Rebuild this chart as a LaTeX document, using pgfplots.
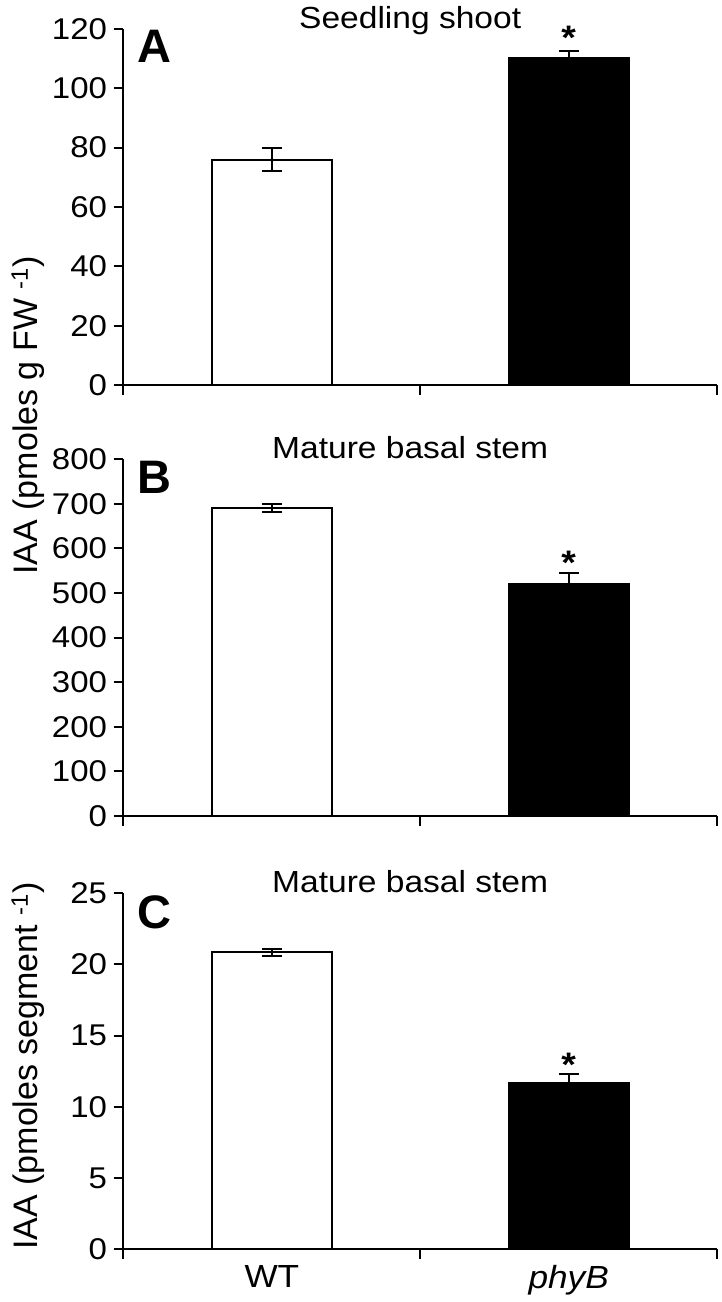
\documentclass[border=0pt]{standalone}
\usepackage{pgfplots}
\pgfplotsset{compat=1.18}
\usepackage{fontspec}
\setmainfont{Liberation Sans}[FakeStretch=1.1]
\newfontfamily\plainfont{Liberation Sans}

\pgfplotsset{
  panel/.style={
    scale only axis, width=593.5pt,
    xmin=0, xmax=2, ymin=0,
    axis x line=bottom, axis y line=left,
    axis line style={-, line width=2pt},
    tick align=outside, major tick length=10pt,
    tick style={line width=2pt, black},
    xtick={0,1,2}, xticklabels={},
    ybar, bar width=0.404,
    /pgf/number format/assume math mode=true,
    tick label style={font=\fontsize{30}{32}\selectfont},
    yticklabel style={xshift=-3pt},
    title style={at={(0.483,1)}, anchor=base, inner sep=0pt, yshift=-5pt,
      font=\fontsize{30.5}{32}\selectfont},
    clip=false,
  },
  bars/.style={draw=black, line width=2pt, bar shift=0pt,
    error bars/y dir=both, error bars/y explicit,
    error bars/error bar style={line width=2pt, black},
    error bars/error mark options={rotate=90, mark size=10pt, line width=2pt, black}},
  wt/.style={bars, fill=white},
  mut/.style={bars, fill=black},
}
\tikzset{
  letter/.style={anchor=base west, font=\plainfont\bfseries\fontsize{47}{49}\selectfont},
  star/.style={anchor=base, font=\bfseries\fontsize{34}{36}\selectfont},
}

\begin{document}
\begin{tikzpicture}
\path[use as bounding box] (0,0) rectangle (721pt,-1302pt);

% A
\begin{axis}[panel, at={(123.5pt,-385pt)}, anchor=south west,
  height=356pt, ymax=120, ytick={0,20,...,120}, title={Seedling shoot}]
\addplot[wt] coordinates {(0.5,76) +- (0,4)};
\addplot[mut] coordinates {(1.5,110.2) +- (0,2.5)};
\node[letter] at (rel axis cs:0.017,0.905) {A};
\node[star] at (axis cs:1.5,113) {*};
\end{axis}

% B
\begin{axis}[panel, at={(123.5pt,-816pt)}, anchor=south west,
  height=356.7pt, ymax=800, ytick={0,100,...,800}, title={Mature basal stem}]
\addplot[wt] coordinates {(0.5,690) +- (0,9)};
\addplot[mut] coordinates {(1.5,521) +- (0,25)};
\node[letter] at (rel axis cs:0.017,0.905) {B};
\node[star] at (axis cs:1.5,542) {*};
\end{axis}

% C
\begin{axis}[panel, at={(123.5pt,-1249pt)}, anchor=south west,
  height=355.7pt, ymax=25, ytick={0,5,...,25}, title={Mature basal stem},
  extra x ticks={0.5,1.5}, extra x tick labels={WT,\textit{phyB}},
  extra x tick style={major tick length=0pt,
    tick label style={font=\fontsize{32}{34}\selectfont, yshift=-13pt}}]
\addplot[wt] coordinates {(0.5,20.85) +- (0,0.25)};
\addplot[mut] coordinates {(1.5,11.7) +- (0,0.6)};
\node[letter] at (rel axis cs:0.017,0.902) {C};
\node[star] at (axis cs:1.5,12.1) {*};
\end{axis}

\node[rotate=90, anchor=base, font=\plainfont\fontsize{34}{36}\selectfont]
  at (37pt,-415.5pt) {IAA (pmoles g FW \textsuperscript{-1})};
\node[rotate=90, anchor=base, font=\plainfont\fontsize{34}{36}\selectfont]
  at (37pt,-1066pt) {IAA (pmoles segment \textsuperscript{-1})};
\end{tikzpicture}
\end{document}
